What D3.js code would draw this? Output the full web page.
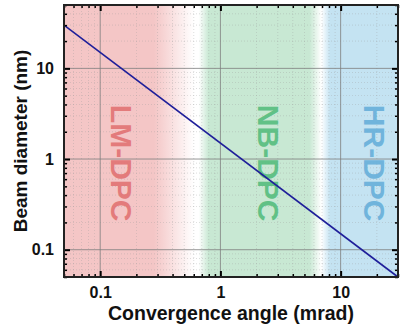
<!DOCTYPE html>
<html>
<head>
<meta charset="utf-8">
<script src="https://cdn.jsdelivr.net/npm/d3@7"></script>
<style>
  body { margin: 0; background: #fff; }
  text { font-family: "Liberation Sans", Arial, sans-serif; font-weight: bold; }
</style>
</head>
<body>
<div id="chart"></div>
<script>
// data
var angle = [0.05, 30];          // convergence angle (mrad)
var diameter = [30, 0.05];       // beam diameter (nm)
var xTicks = [0.1, 1, 10];
var yTicks = [0.1, 1, 10];
var regionNames = ["LM-DPC", "NB-DPC", "HR-DPC"];
var regionCenters = [0.15, 2.5, 19];
var regionFill = ["#f4c6c6", "#c8e8d3", "#c4e3f2"];
var regionText = ["#e27373", "#56bd7e", "#67b0da"];
// gradient stops: [angle, colour index or -1 for white]
var bandStops = [[0.05, 0], [0.28, 0], [0.6, -1], [0.66, -1], [0.8, 1], [5.5, 1], [6.9, -1], [8.2, 2], [30, 2]];

var width = 400, height = 325;
var margin = {top: 5, right: 2, bottom: 48, left: 64};

var svg = d3.select("#chart").append("svg")
    .attr("width", width)
    .attr("height", height);

var x = d3.scaleLog()
    .domain([0.05, 30])
    .range([margin.left, width - margin.right]);

var y = d3.scaleLog()
    .domain([0.05, 50])
    .range([height - margin.bottom, margin.top]);

var pw = x.range()[1] - x.range()[0];

var defs = svg.append("defs");
var grad = defs.append("linearGradient")
    .attr("id", "bands")
    .attr("x1", "0").attr("x2", "1").attr("y1", "0").attr("y2", "0");

bandStops.forEach(function(s) {
    grad.append("stop")
        .attr("offset", (x(s[0]) - margin.left) / pw)
        .attr("stop-color", s[1] < 0 ? "#ffffff" : regionFill[s[1]]);
});

svg.append("rect")
    .attr("x", margin.left)
    .attr("y", margin.top)
    .attr("width", pw)
    .attr("height", y.range()[0] - y.range()[1])
    .attr("fill", "url(#bands)");

// minor ticks
function minors(scale) {
    var d = scale.domain(), out = [];
    for (var e = -2; e <= 2; e++) {
        for (var m = 1; m < 10; m++) {
            var v = m * Math.pow(10, e);
            if (v >= d[0] * 0.999 && v <= d[1] * 1.001) out.push(v);
        }
    }
    return out;
}
var xMinor = minors(x).filter(function(v) { return xTicks.indexOf(v) < 0; });
var yMinor = minors(y).filter(function(v) { return yTicks.indexOf(v) < 0; });

var grid = svg.append("g");
grid.selectAll(".xm").data(xMinor).enter().append("line")
    .attr("x1", d => x(d)).attr("x2", d => x(d))
    .attr("y1", y.range()[1]).attr("y2", y.range()[0])
    .attr("stroke", "#9a9a9a").attr("stroke-width", 0.6)
    .attr("stroke-dasharray", "1,2").attr("opacity", 0.55);
grid.selectAll(".ym").data(yMinor).enter().append("line")
    .attr("y1", d => y(d)).attr("y2", d => y(d))
    .attr("x1", x.range()[0]).attr("x2", x.range()[1])
    .attr("stroke", "#9a9a9a").attr("stroke-width", 0.6)
    .attr("stroke-dasharray", "1,2").attr("opacity", 0.55);
grid.selectAll(".xM").data(xTicks).enter().append("line")
    .attr("x1", d => x(d)).attr("x2", d => x(d))
    .attr("y1", y.range()[1]).attr("y2", y.range()[0])
    .attr("stroke", "#7d7d7d").attr("stroke-width", 0.8);
grid.selectAll(".yM").data(yTicks).enter().append("line")
    .attr("y1", d => y(d)).attr("y2", d => y(d))
    .attr("x1", x.range()[0]).attr("x2", x.range()[1])
    .attr("stroke", "#7d7d7d").attr("stroke-width", 0.8);

// region labels
regionNames.forEach(function(name, i) {
    svg.append("text")
        .attr("transform", "translate(" + x(regionCenters[i]) + "," + y(0.9) + ") rotate(90)")
        .attr("text-anchor", "middle")
        .attr("dominant-baseline", "central")
        .attr("font-size", 30)
        .attr("fill", regionText[i])
        .attr("opacity", 0.9)
        .text(name);
});

// line
var line = d3.line()
    .x(function(d, i) { return x(angle[i]); })
    .y(function(d, i) { return y(diameter[i]); });

svg.append("path")
    .datum(angle)
    .attr("d", line)
    .attr("fill", "none")
    .attr("stroke", "#1f1f9a")
    .attr("stroke-width", 1.6);

// axes with inward ticks on all sides
var fmt = function(d) { return d3.format("~g")(d); };
function addAxis(gen, scale, ticks, minor, transform, labels) {
    var g = svg.append("g").attr("transform", transform);
    g.call(gen(scale).tickValues(minor).tickSize(-3).tickFormat(""));
    g.select(".domain").remove();
    var g2 = svg.append("g").attr("transform", transform);
    g2.call(gen(scale).tickValues(ticks).tickSize(-6).tickSizeOuter(0)
        .tickPadding(labels ? 10 : 0).tickFormat(labels ? fmt : ""));
    g2.select(".domain").remove();
    g.selectAll("line").attr("stroke", "#000").attr("stroke-width", 1.5);
    g2.selectAll("line").attr("stroke", "#000").attr("stroke-width", 2);
    g2.selectAll("text").attr("font-size", 16).attr("fill", "#111")
        .style("font-family", "'Liberation Sans', Arial, sans-serif").style("font-weight", "bold");
}
addAxis(d3.axisBottom, x, xTicks, xMinor, "translate(0," + y.range()[0] + ")", true);
addAxis(d3.axisTop, x, xTicks, xMinor, "translate(0," + y.range()[1] + ")", false);
addAxis(d3.axisLeft, y, yTicks, yMinor, "translate(" + x.range()[0] + ",0)", true);
addAxis(d3.axisRight, y, yTicks, yMinor, "translate(" + x.range()[1] + ",0)", false);

// frame
svg.append("rect")
    .attr("x", margin.left)
    .attr("y", margin.top)
    .attr("width", pw)
    .attr("height", y.range()[0] - y.range()[1])
    .attr("fill", "none")
    .attr("stroke", "#222")
    .attr("stroke-width", 2);

svg.append("text")
    .attr("x", 231)
    .attr("y", 320)
    .attr("text-anchor", "middle")
    .attr("font-size", 19.5)
    .attr("fill", "#111")
    .text("Convergence angle (mrad)");

svg.append("text")
    .attr("transform", "translate(27," + (y.range()[0] + y.range()[1]) / 2 + ") rotate(-90)")
    .attr("text-anchor", "middle")
    .attr("font-size", 19)
    .attr("fill", "#111")
    .text("Beam diameter (nm)");
</script>
</body>
</html>
